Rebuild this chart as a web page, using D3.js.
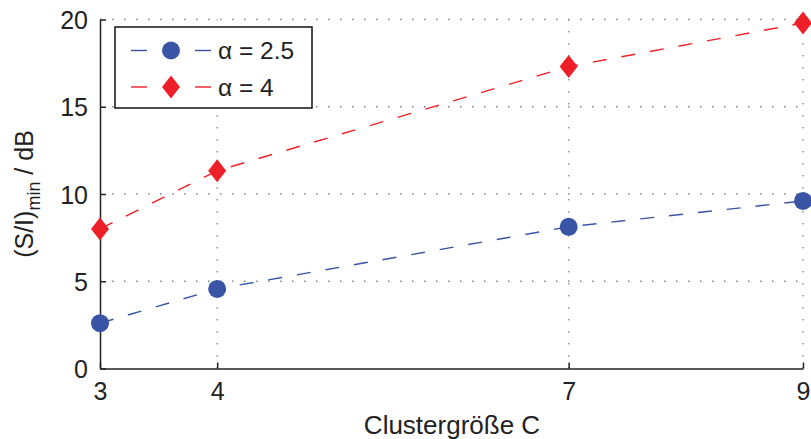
<!DOCTYPE html>
<html>
<head>
<meta charset="utf-8">
<script src="https://cdn.jsdelivr.net/npm/d3@7"></script>
<style>
  html, body { margin: 0; padding: 0; background: #fff; }
  svg { display: block; font-family: "Liberation Sans", Arial, Helvetica, sans-serif; }
</style>
</head>
<body>
<svg id="chart" width="811" height="439"></svg>
<script>
// Cluster sizes and minimum S/I per path-loss exponent
const clusterSizes = [3, 4, 7, 9];
const sirAlpha25 = [2.6, 4.56, 8.12, 9.6];
const sirAlpha4 = [8.0, 11.33, 17.3, 19.8];
const xTicks = [3, 4, 7, 9];
const yTicks = [0, 5, 10, 15, 20];
const seriesNames = ["α = 2.5", "α = 4"];

const blue = "#3953a5";
const red = "#ee1f26";

const svg = d3.select("#chart");
const margin = { left: 100, right: 8, top: 19.5, bottom: 70.5 };
const W = 811, H = 439;

const x = d3.scaleLinear().domain([3, 9]).range([margin.left, W - margin.right]);
const y = d3.scaleLinear().domain([0, 20]).range([H - margin.bottom, margin.top]);

// dotted grid
const grid = svg.append("g");
grid.selectAll("line.gx").data(xTicks.filter(d => d !== 3)).join("line")
  .attr("x1", d => x(d)).attr("x2", d => x(d))
  .attr("y1", y(0)).attr("y2", y(20))
  .attr("stroke", "#8a8a8a").attr("stroke-width", 1.4)
  .attr("stroke-dasharray", "1.6,10.4");
grid.selectAll("line.gy").data(yTicks.filter(d => d !== 0)).join("line")
  .attr("x1", x(3)).attr("x2", x(9))
  .attr("y1", d => y(d)).attr("y2", d => y(d))
  .attr("stroke", "#8a8a8a").attr("stroke-width", 1.4)
  .attr("stroke-dasharray", "1.6,10.4");

// axes (ticks point inward)
const xAxis = d3.axisBottom(x).tickValues(xTicks).tickFormat(d3.format("d"))
  .tickSizeInner(-6).tickSizeOuter(0).tickPadding(13);
const yAxis = d3.axisLeft(y).tickValues(yTicks).tickFormat(d3.format("d"))
  .tickSizeInner(-6).tickSizeOuter(0).tickPadding(12);

const gx = svg.append("g").attr("transform", `translate(0,${y(0)})`).call(xAxis);
const gy = svg.append("g").attr("transform", `translate(${x(3)},0)`).call(yAxis);
[gx, gy].forEach(g => {
  g.select(".domain").attr("stroke", "#222").attr("stroke-width", 1.5);
  g.selectAll(".tick line").attr("stroke", "#222").attr("stroke-width", 1.5);
  g.selectAll(".tick text").attr("fill", "#222").attr("font-size", 25)
    .attr("font-family", "Liberation Sans, Arial, sans-serif");
});
gx.selectAll(".tick text").attr("dy", "0.72em");
gy.selectAll(".tick text").attr("dy", "0.36em");

// series
const line = d3.line().x(d => x(d[0])).y(d => y(d[1]));
const s25 = clusterSizes.map((c, i) => [c, sirAlpha25[i]]);
const s4 = clusterSizes.map((c, i) => [c, sirAlpha4[i]]);

svg.append("path").datum(s25).attr("d", line)
  .attr("fill", "none").attr("stroke", blue).attr("stroke-width", 1.4)
  .attr("stroke-dasharray", "14,15");
svg.append("path").datum(s4).attr("d", line)
  .attr("fill", "none").attr("stroke", red).attr("stroke-width", 1.4)
  .attr("stroke-dasharray", "14,15");

const diamond = (cx, cy, w, h) => `M${cx},${cy - h}L${cx + w},${cy}L${cx},${cy + h}L${cx - w},${cy}Z`;

svg.append("g").selectAll("circle").data(s25).join("circle")
  .attr("cx", d => x(d[0])).attr("cy", d => y(d[1])).attr("r", 9)
  .attr("fill", blue);
svg.append("g").selectAll("path").data(s4).join("path")
  .attr("d", d => diamond(x(d[0]), y(d[1]), 9, 11.5))
  .attr("fill", red);

// legend
const lg = svg.append("g");
lg.append("rect").attr("x", 115).attr("y", 27).attr("width", 197).attr("height", 81)
  .attr("fill", "#fff").attr("stroke", "#111").attr("stroke-width", 1.5);
const rows = [
  { name: seriesNames[0], color: blue, ry: 50.5, shape: "circle" },
  { name: seriesNames[1], color: red, ry: 87, shape: "diamond" }
];
rows.forEach(r => {
  [[131, 147], [195, 211]].forEach(([a, b]) => {
    lg.append("line").attr("x1", a).attr("x2", b).attr("y1", r.ry).attr("y2", r.ry)
      .attr("stroke", r.color).attr("stroke-width", 1.4);
  });
  if (r.shape === "circle") {
    lg.append("circle").attr("cx", 171).attr("cy", r.ry).attr("r", 9).attr("fill", r.color);
  } else {
    lg.append("path").attr("d", diamond(171, r.ry, 9, 11.5)).attr("fill", r.color);
  }
  lg.append("text").attr("x", 218).attr("y", r.ry).attr("dy", "0.36em")
    .attr("font-size", 24.5).attr("fill", "#222").text(r.name);
});

// axis titles
svg.append("text").attr("x", 452).attr("y", 434).attr("text-anchor", "middle")
  .attr("font-size", 26).attr("fill", "#222").text("Clustergröße C");

const yt = svg.append("text")
  .attr("transform", `translate(33,${(y(0) + y(20)) / 2}) rotate(-90)`)
  .attr("text-anchor", "middle").attr("font-size", 25).attr("fill", "#222");
yt.append("tspan").text("(S/I)");
yt.append("tspan").attr("font-size", 18).attr("dy", 7).text("min");
yt.append("tspan").attr("dy", -7).text(" / dB");
</script>
</body>
</html>
